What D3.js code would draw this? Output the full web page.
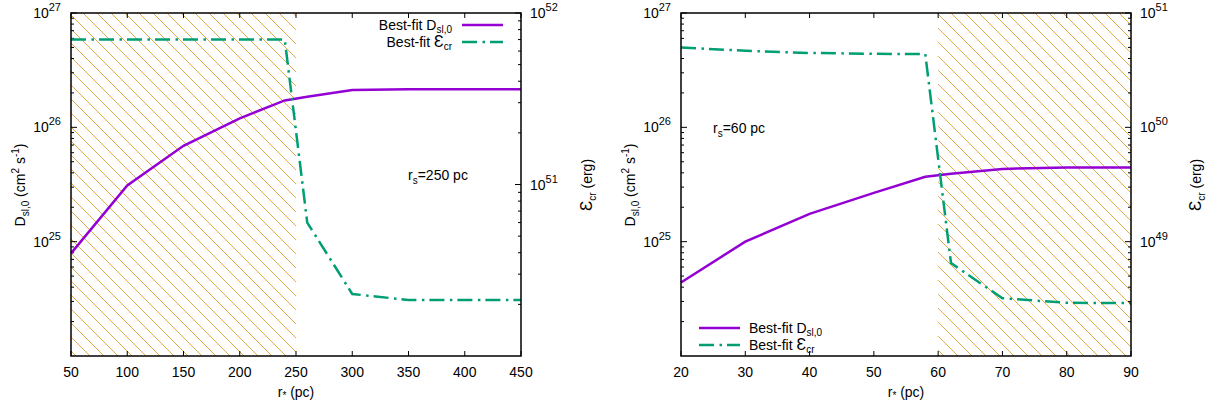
<!DOCTYPE html>
<html>
<head>
<meta charset="utf-8">
<script src="https://cdn.jsdelivr.net/npm/d3@7"></script>
<style>
  body { margin: 0; background: #fff; }
  svg { display: block; font-family: "Liberation Sans", Arial, sans-serif; }
</style>
</head>
<body>
<svg id="chart" width="1210" height="405"></svg>
<script>
// left panel, r_s = 250 pc
const leftR = [50, 100, 150, 200, 240, 260, 300, 350, 400, 450];
const leftD = [7.9e24, 3.1e25, 6.9e25, 1.2e26, 1.72e26, 1.85e26, 2.12e26, 2.15e26, 2.15e26, 2.15e26];
const leftE = [7e51, 7e51, 7e51, 7e51, 7e51, 6e50, 2.3e50, 2.12e50, 2.12e50, 2.12e50];
const leftXTicks = [50, 100, 150, 200, 250, 300, 350, 400, 450];
const leftHatch = [50, 250];

// right panel, r_s = 60 pc
const rightR = [20, 30, 40, 50, 58, 62, 70, 80, 90];
const rightD = [4.4e24, 1.0e25, 1.75e25, 2.67e25, 3.7e25, 3.92e25, 4.33e25, 4.45e25, 4.45e25];
const rightE = [5.0e50, 4.67e50, 4.47e50, 4.4e50, 4.37e50, 6.5e48, 3.2e48, 2.92e48, 2.9e48];
const rightXTicks = [20, 30, 40, 50, 60, 70, 80, 90];
const rightHatch = [60, 90];

const purple = "#9400d3";
const green = "#009e73";
const hatchColor = "#d9961a";
const dashDot = "15,5.5,2.5,5";

const svg = d3.select("#chart");

// hatch pattern
const defs = svg.append("defs");
const pat = defs.append("pattern")
  .attr("id", "hatch")
  .attr("patternUnits", "userSpaceOnUse")
  .attr("width", 14).attr("height", 14);
pat.append("path")
  .attr("d", "M0,0 L14,14 M-7,7 L7,21 M7,-7 L21,7")
  .attr("stroke", hatchColor)
  .attr("stroke-width", 0.8);

function supLabel(sel, base, exp) {
  sel.append("tspan").text(base);
  sel.append("tspan").attr("dy", -7).attr("font-size", 11).text(exp);
}

function drawPanel(p) {
  const top = 13, bottom = 356;
  const x = d3.scaleLinear().domain(p.xDomain).range([p.left, p.right]);
  const yL = d3.scaleLog().domain(p.yLDomain).range([bottom, top]);
  const yR = d3.scaleLog().domain(p.yRDomain).range([bottom, top]);
  const g = svg.append("g");

  // hatched excluded region
  g.append("rect")
    .attr("x", x(p.hatch[0]))
    .attr("y", top)
    .attr("width", x(p.hatch[1]) - x(p.hatch[0]))
    .attr("height", bottom - top)
    .attr("fill", "url(#hatch)");

  // x ticks (bottom + mirrored top)
  p.xTicks.forEach(t => {
    g.append("line").attr("x1", x(t)).attr("x2", x(t)).attr("y1", bottom).attr("y2", bottom - 5)
      .attr("stroke", "#000").attr("stroke-width", 1);
    g.append("line").attr("x1", x(t)).attr("x2", x(t)).attr("y1", top).attr("y2", top + 5)
      .attr("stroke", "#000").attr("stroke-width", 1);
    g.append("text").attr("x", x(t)).attr("y", 377).attr("text-anchor", "middle")
      .attr("font-size", 14).text(t);
  });

  // log ticks for both y axes (lowest decade is not labelled)
  function logTicks(scale, xPos, dir, labelX, anchor) {
    const [lo, hi] = scale.domain().map(Math.log10);
    for (let e = lo; e <= hi; e++) {
      const v = Math.pow(10, e);
      if (e > lo) {
        g.append("line").attr("x1", xPos).attr("x2", xPos + dir * 6)
          .attr("y1", scale(v)).attr("y2", scale(v)).attr("stroke", "#000");
        const lab = g.append("text").attr("x", labelX).attr("y", scale(v) + 5)
          .attr("text-anchor", anchor).attr("font-size", 14);
        supLabel(lab, "10", e);
      }
      if (e < hi) {
        for (let m = 2; m <= 9; m++) {
          const mv = m * v;
          g.append("line").attr("x1", xPos).attr("x2", xPos + dir * 3)
            .attr("y1", scale(mv)).attr("y2", scale(mv)).attr("stroke", "#000");
        }
      }
    }
  }
  logTicks(yL, p.left, 1, p.left - 10, "end");
  logTicks(yR, p.right, -1, p.right + 9, "start");

  // curves
  const lineD = d3.line().x((d, i) => x(p.r[i])).y(d => yL(d));
  const lineE = d3.line().x((d, i) => x(p.r[i])).y(d => yR(d));
  g.append("path").datum(p.D).attr("d", lineD)
    .attr("fill", "none").attr("stroke", purple).attr("stroke-width", 2.5);
  g.append("path").datum(p.E).attr("d", lineE)
    .attr("fill", "none").attr("stroke", green).attr("stroke-width", 2.5)
    .attr("stroke-dasharray", dashDot);

  // frame
  g.append("rect").attr("x", p.left).attr("y", top)
    .attr("width", p.right - p.left).attr("height", bottom - top)
    .attr("fill", "none").attr("stroke", "#000").attr("stroke-width", 1.5);

  // axis titles
  const yl = g.append("text")
    .attr("transform", `translate(${p.yLabelX},185) rotate(-90)`)
    .attr("text-anchor", "middle").attr("font-size", 14);
  yl.append("tspan").text("D");
  yl.append("tspan").attr("font-size", 10).attr("dy", 4).text("sl,0");
  yl.append("tspan").attr("dy", -4).text(" (cm");
  yl.append("tspan").attr("font-size", 10).attr("dy", -6).text("2");
  yl.append("tspan").attr("dy", 6).text(" s");
  yl.append("tspan").attr("font-size", 10).attr("dy", -6).text("-1");
  yl.append("tspan").attr("dy", 6).text(")");

  const yr = g.append("text")
    .attr("transform", `translate(${p.yRLabelX},185) rotate(-90)`)
    .attr("text-anchor", "middle").attr("font-size", 14);
  yr.append("tspan").attr("font-size", 17).text("Ɛ");
  yr.append("tspan").attr("font-size", 10).attr("dy", 4).text("cr");
  yr.append("tspan").attr("dy", -4).text(" (erg)");

  const xl = g.append("text").attr("x", (p.left + p.right) / 2).attr("y", 397)
    .attr("text-anchor", "middle").attr("font-size", 14);
  xl.append("tspan").text("r");
  xl.append("tspan").attr("font-size", 10).attr("dy", 2).text("*");
  xl.append("tspan").attr("dy", -2).text(" (pc)");

  // r_s annotation
  const rs = g.append("text").attr("x", p.rsPos[0]).attr("y", p.rsPos[1]).attr("font-size", 14);
  rs.append("tspan").text("r");
  rs.append("tspan").attr("font-size", 10).attr("dy", 4).text("s");
  rs.append("tspan").attr("dy", -4).text(p.rsText);

  // legend
  const L = p.legend;
  const rows = [
    { label: "D", sub: "sl,0", color: purple, dash: null },
    { label: "Ɛ", sub: "cr", color: green, dash: dashDot }
  ];
  rows.forEach((r, i) => {
    const yy = L.y + i * 17;
    g.append("line").attr("x1", L.lineX[0]).attr("x2", L.lineX[1])
      .attr("y1", yy).attr("y2", yy)
      .attr("stroke", r.color).attr("stroke-width", 2.5)
      .attr("stroke-dasharray", r.dash);
    const t = g.append("text").attr("x", L.textX).attr("y", yy + 5)
      .attr("text-anchor", L.anchor).attr("font-size", 14);
    t.append("tspan").text("Best-fit ");
    t.append("tspan").attr("font-size", r.label === "Ɛ" ? 16 : 14).text(r.label);
    t.append("tspan").attr("font-size", 10).attr("dy", 3).text(r.sub);
  });
}

drawPanel({
  left: 71, right: 521,
  xDomain: [50, 450], yLDomain: [1e24, 1e27], yRDomain: [1e50, 1e52],
  r: leftR, D: leftD, E: leftE, xTicks: leftXTicks, hatch: leftHatch,
  yLabelX: 25, yRLabelX: 592,
  rsPos: [408, 180], rsText: "=250 pc",
  legend: { y: 25, lineX: [462, 503], textX: 452, anchor: "end" }
});

drawPanel({
  left: 681, right: 1131,
  xDomain: [20, 90], yLDomain: [1e24, 1e27], yRDomain: [1e48, 1e51],
  r: rightR, D: rightD, E: rightE, xTicks: rightXTicks, hatch: rightHatch,
  yLabelX: 635, yRLabelX: 1201,
  rsPos: [713, 133], rsText: "=60 pc",
  legend: { y: 328, lineX: [699, 740], textX: 749, anchor: "start" }
});
</script>
</body>
</html>
